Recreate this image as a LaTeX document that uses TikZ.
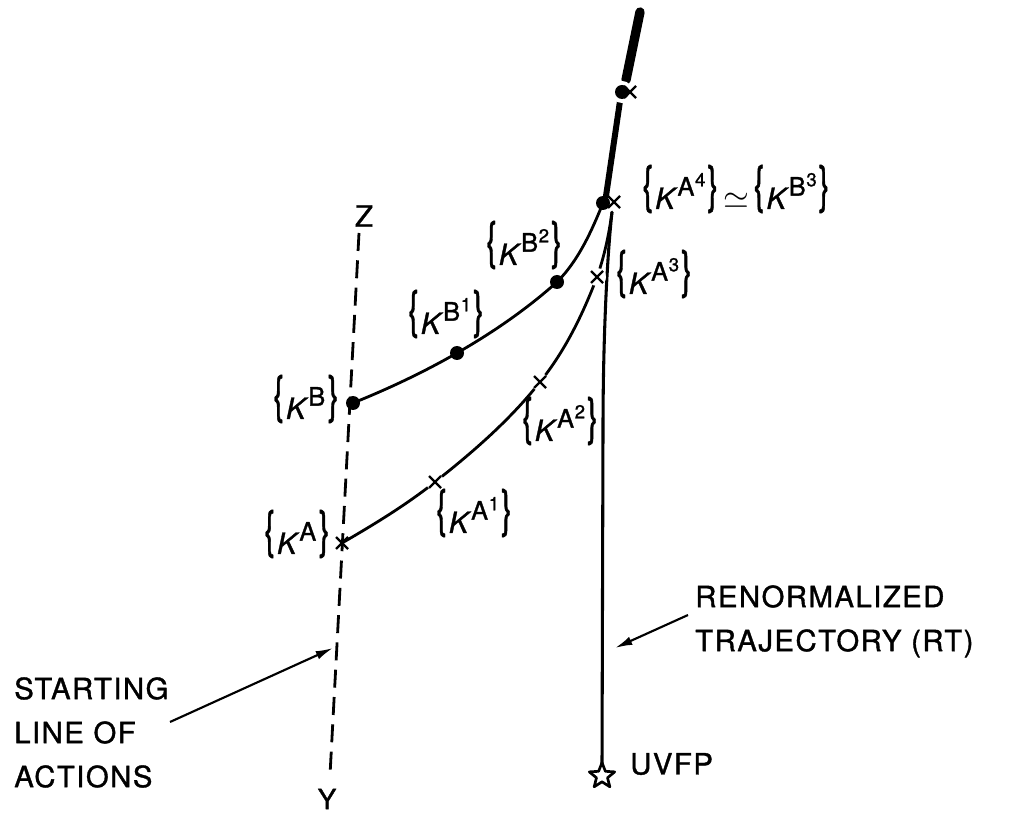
\documentclass[tikz,border=0pt]{standalone}
\usepackage{fontspec}
\setmainfont{TeX Gyre Heros}[FakeBold=1.2]
\newfontfamily\capfont{TeX Gyre Heros}[LetterSpace=5,FakeBold=1.2]
\usetikzlibrary{shapes.geometric,arrows.meta}
\newcommand\lbr{\raisebox{5pt}{\scalebox{1.1}[1.75]{\{}}}
\newcommand\rbr{\raisebox{5pt}{\scalebox{1.1}[1.75]{\}}}}
\newcommand\kap[2]{\lbr\kern1.5pt{\fontsize{22}{22}\selectfont\itshape K}\kern2pt\raisebox{10pt}{\fontsize{19}{19}\selectfont #1\kern0.5pt\raisebox{7pt}{\fontsize{14}{14}\selectfont #2}}\kern1.5pt\rbr}
\tikzset{
  lbl/.style={font=\fontsize{22}{24}\selectfont, inner sep=0pt},
  captext/.style={font=\fontsize{22}{33}\selectfont\capfont, inner sep=0pt, align=left},
  curve/.style={line width=2.1pt, line cap=round},
  dashline/.style={line width=2.1pt, dash pattern=on 13.5pt off 7pt},
  crossmark/.style={line width=1.8pt},
  arr/.style={line width=1.6pt, -{Latex[length=13pt,width=6.5pt]}}
}
\begin{document}
\begin{tikzpicture}[x=0.75pt,y=-0.75pt,line join=round]
\useasboundingbox (0,0) rectangle (1010,816);
% key points
\coordinate (KA) at (342,543);
\coordinate (KA1) at (435,482);
\coordinate (KA2) at (540,382);
\coordinate (KA3) at (597,277);
\coordinate (KAe) at (612,212);
\coordinate (KA4) at (614,202);
\coordinate (KB) at (353,403);
\coordinate (KB1) at (457,353);
\coordinate (KB2) at (557,282);
\coordinate (KB3) at (603,203);
\coordinate (Kt) at (622,92);
\coordinate (Ktx) at (630,92);
\coordinate (T1) at (606,196);
\coordinate (T2) at (620,101);
\coordinate (T3) at (626,80);
\coordinate (T4) at (640,12);
\coordinate (Ztop) at (359,233);
\coordinate (Ybot) at (330,775);
\coordinate (RTlow) at (603,430);
\coordinate (RTbot) at (602,764);

% starting line of actions
\draw[dashline] (Ztop) -- (Ybot);
\node[font=\fontsize{22}{24}\selectfont, inner sep=0pt] (Z) at (364,216) {Z};
\node[font=\fontsize{21}{24}\selectfont, inner sep=0pt] (Y) at (327,799) {Y};

% renormalized trajectory
\draw[line width=2.3pt] (RTbot) -- (RTlow) .. controls +(0,-90) and +(-5,45) .. (KAe);
\draw[line width=4.5pt, line cap=round] (T1) -- (T2);
\draw[line width=7pt, line cap=round] (T3) -- (T4);

% curve B
\draw[curve] (KB) .. controls +(35,-14) and +(-33,19) .. (KB1)
  .. controls +(35,-20) and +(-30,27) .. (KB2)
  .. controls +(22,-22) and +(-11,27) .. (KB3);

% curve A
\draw[curve] (KA) .. controls +(32,-18.5) and +(-29,23) .. (KA1)
  .. controls +(38,-30) and +(-30,38) .. (KA2)
  .. controls +(25,-31) and +(-14,37) .. (KA3)
  .. controls +(7.5,-21) and +(-3,22) .. (KAe);

% gaps at crosses
\foreach \p in {KA1,KA2,KA3}{\fill[white] (\p) circle (9);}
\fill[white] (Kt) circle (11);

% crosses
\foreach \p in {KA,KA1,KA2,KA3,KA4,Ktx}{
  \draw[crossmark] (\p) +(-6,-6) -- +(6,6) +(-6,6) -- +(6,-6);}
% dots
\foreach \p in {KB,KB1,KB2,KB3,Kt}{\fill (\p) circle (7);}

% star
\node[star, star points=5, star point ratio=2.3, draw, line width=2pt, minimum size=20pt, inner sep=0pt] (UV) at (602,776) {};
\node[captext, anchor=west] (uvfp) at (630,764) {UVFP};

% labels
\node[lbl] (lKB) at (306,399) {\kap{B}{}};
\node[lbl] (lKB1) at (446,314) {\kap{B}{1}};
\node[lbl] (lKB2) at (524,245) {\kap{B}{2}};
\node[lbl] (lKA) at (297,534) {\kap{A}{}};
\node[lbl] (lKA1) at (474,513) {\kap{A}{1}};
\node[lbl] (lKA2) at (560,421) {\kap{A}{2}};
\node[lbl] (lKA3) at (654,274) {\kap{A}{3}};
\node[lbl] (lKA4) at (736,189) {\kap{A}{4}\,{\fontsize{26}{26}\selectfont$\simeq$}\,\kap{B}{3}};

% captions
\node[captext, anchor=north west] (start) at (14,677) {STARTING\\LINE OF\\ACTIONS};
\coordinate (sa1) at (170,722);
\coordinate (sa2) at (333,648);
\draw[arr] (sa1) -- (sa2);
\node[captext, anchor=north west] (rt) at (695,585) {RENORMALIZED\\TRAJECTORY (RT)};
\coordinate (ra1) at (688,615);
\coordinate (ra2) at (615,648);
\draw[arr] (ra1) -- (ra2);
\end{tikzpicture}
\end{document}
